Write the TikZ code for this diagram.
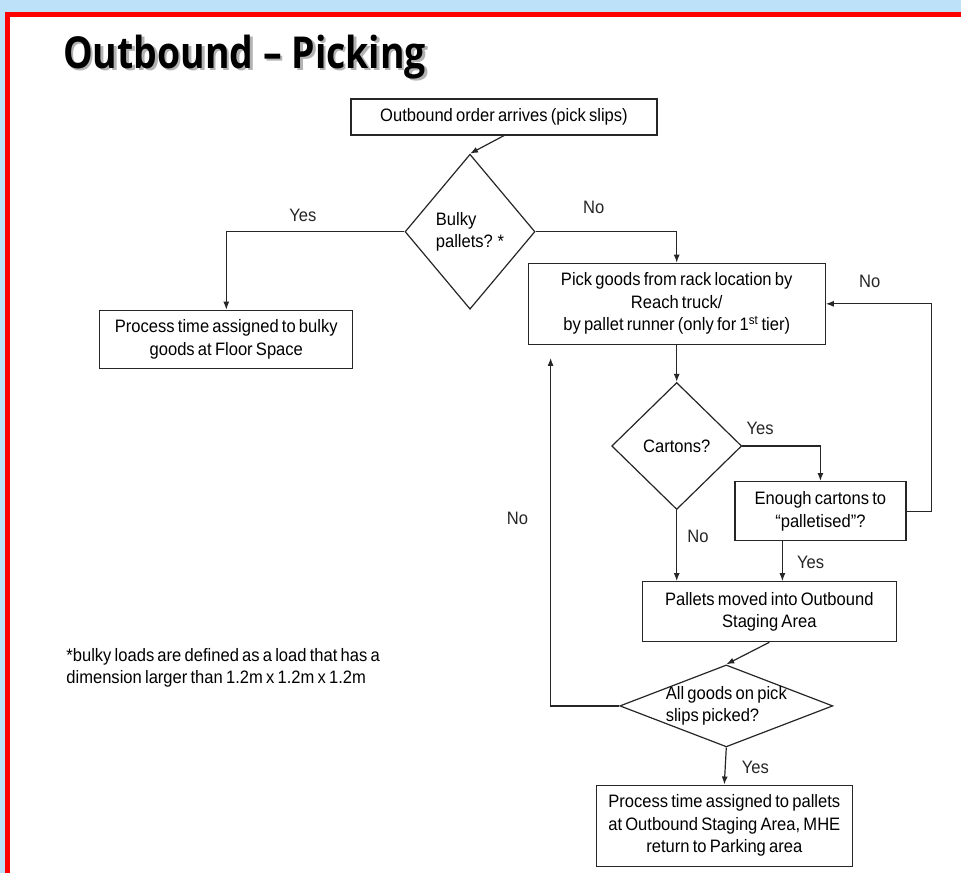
\documentclass[tikz,border=0pt]{standalone}
\usepackage{fontspec}
\setmainfont{Liberation Sans}[FakeStretch=0.92, WordSpace=0.7]
\newfontfamily\titlefont{Open Sans}[FakeStretch=0.85]
\usetikzlibrary{calc, shapes, arrows.meta, positioning}
\newcommand{\boxfont}{\fontsize{18pt}{22.5pt}\selectfont}
\definecolor{skyblue}{RGB}{190,225,250}
\definecolor{framered}{RGB}{255,0,0}
\tikzstyle{procbox} = [rectangle, draw=black!85, line width=1.2pt, align=center, font=\boxfont, inner sep=2pt]
\tikzstyle{choice} = [diamond, draw=black!85, line width=1.2pt, align=left, font=\boxfont, inner sep=0pt]
\tikzstyle{lbl} = [font=\boxfont, inner sep=2pt]
\tikzstyle{line} = [draw, black!85, line width=1.2pt, -{Latex[length=8pt,width=6pt]}]

\begin{document}
\begin{tikzpicture}[x=1pt, y=-1pt]
\useasboundingbox (0,0) rectangle (961,873);
\fill[skyblue] (0,0) rectangle (961,873);
\fill[white] (10,17) rectangle (961,873);
\draw[framered, line width=5pt] (7.5,873) |- (961,14.5);
\node [anchor=base west, inner sep=0pt, text=black!30, font=\titlefont\bfseries\fontsize{44pt}{50pt}\selectfont] (titleshade) at (65.5,70.5) {Outbound – Picking};
\node [anchor=base west, inner sep=0pt, font=\titlefont\bfseries\fontsize{44pt}{50pt}\selectfont] (title) at (63,68) {Outbound – Picking};
\node [procbox, minimum width=306pt, minimum height=36pt] (order) at (504,117) {Outbound order arrives (pick slips)};
\node [choice, minimum width=130pt, minimum height=155pt, below = 18pt of order, xshift=-34pt] (bulky) {Bulky\\pallets? *};
\node [procbox, minimum width=253pt, minimum height=58pt, below left = 78pt and 51pt of bulky.west] (bulkyfs) {Process time assigned to bulky\\goods at Floor Space};
\node [procbox, minimum width=297pt, minimum height=81pt, below right = 31pt and -8pt of bulky.east] (pick) {Pick goods from rack location by\\Reach truck/\\by pallet runner (only for 1\textsuperscript{st} tier)};
\node [choice, minimum width=130pt, minimum height=127pt, below = 37pt of pick] (cart) {Cartons?};
\node [procbox, minimum width=171pt, minimum height=59pt, below right = 35pt and -8pt of cart.east] (enough) {Enough cartons to\\“palletised”?};
\node [procbox, minimum width=254pt, minimum height=60pt, below right = 71pt and -35pt of cart.south] (stage) {Pallets moved into Outbound\\Staging Area};
\node [choice, aspect=2.6, inner sep=-5pt, minimum width=213pt, minimum height=82pt, below = 22pt of stage.south, xshift=-43pt] (allpk) {All goods on pick\\slips picked?};
\node [procbox, minimum width=256pt, minimum height=81pt, below = 37pt of allpk, xshift=-2pt] (done) {Process time assigned to pallets\\at Outbound Staging Area, MHE\\return to Parking area};
\node [lbl, align=left, inner sep=0pt, below right = 279pt and -33pt of bulkyfs.south west] (note) {*bulky loads are defined as a load that has a\\dimension larger than 1.2m x 1.2m x 1.2m};
\coordinate [below = 13pt of pick.south west, xshift=23pt] (loopend);
\path[line] (order.south) -- (bulky.north);
\path[line] (bulky.west) -| node[lbl, pos=0.285, above=7pt] {Yes} (bulkyfs.north);
\path[line] (bulky.east) -| node[lbl, pos=0.206, above=15pt] {No} (pick.north);
\path[line] (pick) -- (cart);
\path[line] (cart.east) -| node[lbl, pos=0.114, above=9pt] {Yes} (enough.north);
\path[line] (enough.east) -- ++(25pt,0) |- node[lbl, pos=0.75, above=14pt, xshift=-9pt] {No} (pick.east);
\path[line] (cart.south) -- node[lbl, pos=0.375, right=8pt] {No} (cart.south |- stage.north);
\path[line] ([xshift=-38pt]enough.south) -- node[lbl, pos=0.54, right=12pt] {Yes} ([xshift=-38pt]enough.south |- stage.north);
\path[line] (stage.south) -- (allpk.north);
\path[line] (allpk.west) -| node[lbl, pos=0.769, left=20pt] {No} (loopend);
\path[line] (allpk.south) -- node[lbl, pos=0.54, right=14pt] {Yes} (done.north);
\end{tikzpicture}
\end{document}
